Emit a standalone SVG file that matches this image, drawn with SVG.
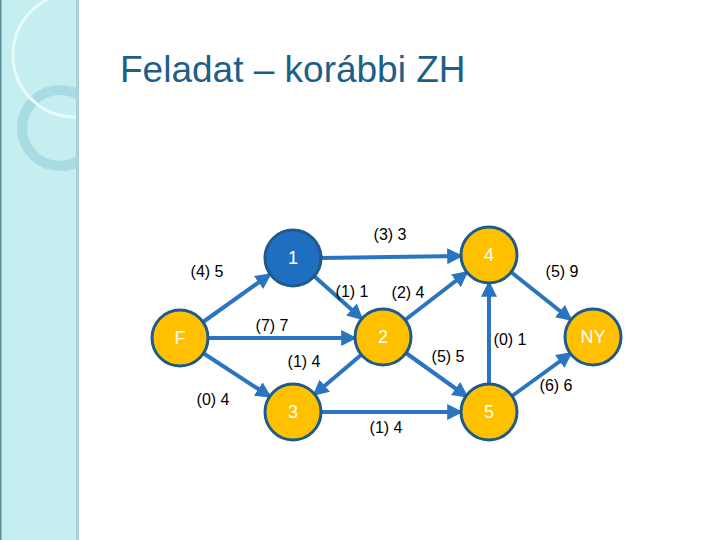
<svg xmlns="http://www.w3.org/2000/svg" width="720" height="540" viewBox="0 0 720 540">
<defs>
<marker id="ah" viewBox="0 0 10 10" refX="8" refY="5" markerWidth="4" markerHeight="4" orient="auto" markerUnits="strokeWidth"><path d="M0,0 L10,5 L0,10 z" fill="#2a74c0"/></marker>
<clipPath id="strip"><rect x="0" y="0" width="77" height="540"/></clipPath>
<style>
.e{stroke:#2a74c0;stroke-width:4;fill:none;marker-end:url(#ah)}
.n{fill:#ffc000;stroke:#1f5a8a;stroke-width:3}
.t{font-family:"Liberation Sans",Arial,sans-serif;font-size:18px;fill:#fff;text-anchor:middle}
.l{font-family:"Liberation Sans",Arial,sans-serif;font-size:16px;fill:#000;text-anchor:middle}
</style>
</defs>
<rect width="720" height="540" fill="#fff"/>
<rect x="0" y="0" width="78" height="540" fill="#c4eef0"/>
<g clip-path="url(#strip)">
<circle cx="60" cy="128" r="38" fill="none" stroke="#a9dbe2" stroke-width="10"/>
<circle cx="75" cy="55" r="62" fill="none" stroke="#e8fbfc" stroke-width="3"/>
</g>
<rect x="0" y="0" width="1.5" height="540" fill="#5a8f95"/>
<rect x="76" y="0" width="3" height="540" fill="#a8d2d8"/>
<text x="120" y="82" font-family="Liberation Sans,Arial,sans-serif" font-size="37" fill="#1e5f88">Feladat – korábbi ZH</text>
<g id="connectors">
<line class="e" x1="203" y1="322" x2="269" y2="275"/>
<line class="e" x1="208" y1="338" x2="354" y2="338"/>
<line class="e" x1="203" y1="353" x2="269" y2="396"/>
<line class="e" x1="321" y1="258" x2="460" y2="256"/>
<line class="e" x1="314" y1="276" x2="361" y2="318"/>
<line class="e" x1="405" y1="320" x2="466" y2="273"/>
<line class="e" x1="361" y1="355" x2="315" y2="394"/>
<line class="e" x1="406" y1="353" x2="466" y2="396"/>
<line class="e" x1="321" y1="412" x2="460" y2="412"/>
<line class="e" x1="489" y1="384" x2="489" y2="284"/>
<line class="e" x1="511" y1="272" x2="570" y2="319"/>
<line class="e" x1="512" y1="396" x2="570" y2="354"/>
</g>
<g id="labels">
<text class="l" x="390" y="240">(3) 3</text>
<text class="l" x="207" y="277">(4) 5</text>
<text class="l" x="352" y="297">(1) 1</text>
<text class="l" x="408" y="298">(2) 4</text>
<text class="l" x="562" y="277">(5) 9</text>
<text class="l" x="272" y="331">(7) 7</text>
<text class="l" x="510" y="345">(0) 1</text>
<text class="l" x="304" y="367">(1) 4</text>
<text class="l" x="448" y="362">(5) 5</text>
<text class="l" x="556" y="391">(6) 6</text>
<text class="l" x="213" y="405">(0) 4</text>
<text class="l" x="386" y="433">(1) 4</text>
</g>
<g id="nF"><circle class="n" cx="180" cy="338" r="28"/><text class="t" x="180" y="344">F</text></g>
<g id="n1"><circle class="n" cx="293" cy="258" r="28" style="fill:#1e6fc0"/><text class="t" x="293" y="264">1</text></g>
<g id="n4"><circle class="n" cx="489" cy="255" r="28"/><text class="t" x="489" y="261">4</text></g>
<g id="n2"><circle class="n" cx="383" cy="337" r="28"/><text class="t" x="383" y="343">2</text></g>
<g id="n3"><circle class="n" cx="293" cy="412" r="28"/><text class="t" x="293" y="418">3</text></g>
<g id="n5"><circle class="n" cx="489" cy="412" r="28"/><text class="t" x="489" y="418">5</text></g>
<g id="nNY"><circle class="n" cx="593" cy="337" r="28"/><text class="t" x="593" y="343">NY</text></g>
</svg>
